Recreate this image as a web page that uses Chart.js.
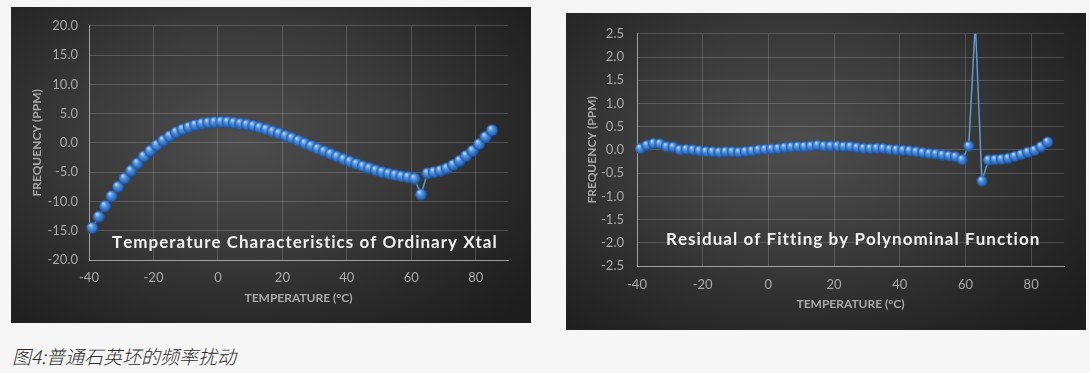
<!DOCTYPE html>
<html>
<head>
<meta charset="utf-8">
<script src="https://cdn.jsdelivr.net/npm/chart.js@4.4.1/dist/chart.umd.min.js"></script>
<style>
    html, body { margin: 0; padding: 0; width: 1090px; height: 373px; overflow: hidden; background: #f6f6f6; }
    .painel {
        position: absolute;
        background: radial-gradient(ellipse 72% 80% at 44% 42%, #4d4d4d 0%, #3c3c3c 40%, #282828 75%, #1d1d1d 100%);
    }
    .painel canvas { display: block; }
    #painelXtal { left: 11px; top: 7px; width: 520px; height: 316px; }
    #painelResiduo { left: 566px; top: 13px; width: 520px; height: 317px; }
    .legenda {
        position: absolute; left: 12px; top: 342px;
        font: italic 300 19px "Noto Sans CJK SC", sans-serif; color: #2a2a2a;
    }
</style>
</head>
<body>
<div class="painel" id="painelXtal"><canvas id="graficoXtal" width="520" height="316"></canvas></div>
<div class="painel" id="painelResiduo"><canvas id="graficoResiduo" width="520" height="317"></canvas></div>
<div class="legenda">图4:普通石英坯的频率扰动</div>
<script>
// Dados
const temperaturas = [-39, -37, -35, -33, -31, -29, -27, -25, -23, -21, -19, -17, -15, -13, -11, -9, -7, -5, -3, -1,
    1, 3, 5, 7, 9, 11, 13, 15, 17, 19, 21, 23, 25, 27, 29, 31, 33, 35, 37, 39,
    41, 43, 45, 47, 49, 51, 53, 55, 57, 59, 61, 63, 65, 67, 69, 71, 73, 75, 77, 79, 81, 83, 85];

const frequencias = [-14.5, -12.6, -10.8, -9.1, -7.5, -6.05, -4.75, -3.5, -2.3, -1.35,
    -0.4, 0.4, 1.15, 1.8, 2.3, 2.7, 3.05, 3.3, 3.45, 3.55,
    3.6, 3.55, 3.45, 3.3, 3.1, 2.9, 2.6, 2.3, 1.95, 1.6,
    1.2, 0.8, 0.35, -0.1, -0.55, -1.0, -1.45, -1.9, -2.35, -2.8,
    -3.2, -3.6, -4.0, -4.35, -4.7, -5.0, -5.25, -5.5, -5.7, -5.85,
    -6.1, -8.8, -5.2, -5.0, -4.75, -4.35, -3.75, -3.05, -2.2, -1.35,
    -0.2, 1.0, 2.15];

const residuos = [0.03, 0.1, 0.14, 0.13, 0.07, 0.06, 0.0, 0.01, 0.0, -0.02,
    -0.035, -0.04, -0.05, -0.04, -0.04, -0.05, -0.035, -0.02, 0.0, 0.01,
    0.02, 0.03, 0.05, 0.06, 0.07, 0.07, 0.08, 0.1, 0.08, 0.08,
    0.08, 0.07, 0.07, 0.05, 0.035, 0.03, 0.035, 0.03, 0.01, 0.0,
    -0.01, -0.02, -0.04, -0.06, -0.08, -0.09, -0.11, -0.13, -0.15, -0.21,
    0.08, 2.75, -0.67, -0.22, -0.21, -0.2, -0.18, -0.14, -0.1, -0.05,
    -0.01, 0.07, 0.17];

const ticksTemperatura = [-40, -20, 0, 20, 40, 60, 80];
const ticksFrequencia = [-20, -15, -10, -5, 0, 5, 10, 15, 20];
const ticksResiduo = [-2.5, -2.0, -1.5, -1.0, -0.5, 0, 0.5, 1.0, 1.5, 2.0, 2.5];

const corTexto = '#a9a9a9';

// Esfera azul usada como marcador
const criarEsfera = (diametro) => {
    const c = document.createElement('canvas');
    c.width = c.height = diametro + 2;
    const g = c.getContext('2d');
    const r = diametro / 2;
    const cx = c.width / 2, cy = c.height / 2;
    const grad = g.createRadialGradient(cx - r * 0.3, cy - r * 0.45, r * 0.1, cx, cy, r);
    grad.addColorStop(0, '#b8d8fa');
    grad.addColorStop(0.3, '#5b9ae0');
    grad.addColorStop(0.75, '#2e6dc2');
    grad.addColorStop(1, '#1d4d93');
    g.fillStyle = grad;
    g.beginPath();
    g.arc(cx, cy, r, 0, Math.PI * 2);
    g.fill();
    return c;
};

// Título dentro da área do gráfico, com letras espaçadas
const tituloInterno = {
    id: 'tituloInterno',
    afterDatasetsDraw(chart, args, opts) {
        const { ctx, chartArea } = chart;
        ctx.save();
        ctx.font = `bold ${opts.size}px Lato`;
        ctx.fillStyle = '#f0f0f0';
        ctx.textBaseline = 'middle';
        const base = ctx.measureText(opts.text).width;
        const espaco = (opts.width - base) / (opts.text.length - 1);
        let x = chartArea.left + (chartArea.width - opts.width) / 2 + opts.dx;
        const y = chartArea.bottom - opts.dy;
        for (const ch of opts.text) {
            ctx.fillText(ch, x, y);
            x += ctx.measureText(ch).width + espaco;
        }
        ctx.restore();
    }
};

const criarGrafico = (id, valores, cfg) => new Chart(document.getElementById(id), {
    type: 'line',
    data: {
        datasets: [{
            data: temperaturas.map((t, i) => ({ x: t, y: valores[i] })),
            borderColor: '#5b9bd5',
            borderWidth: 1.5,
            pointStyle: criarEsfera(cfg.diametro),
            pointRadius: cfg.diametro / 2,
            clip: cfg.clip
        }]
    },
    options: {
        responsive: false,
        animation: false,
        layout: { padding: cfg.padding },
        plugins: { legend: { display: false }, tooltip: { enabled: false }, tituloInterno: cfg.titulo },
        scales: {
            x: {
                type: 'linear', min: -40, max: 90,
                afterBuildTicks: s => { s.ticks = ticksTemperatura.map(v => ({ value: v })); },
                afterFit: s => { s.height = cfg.alturaX; },
                ticks: { color: corTexto, font: { family: 'Lato', size: 13 }, padding: cfg.padTickX },
                grid: { color: 'rgba(255,255,255,0.17)', drawTicks: false },
                border: { color: 'rgba(255,255,255,0.45)' },
                title: { display: true, text: 'TEMPERATURE (°C)', color: corTexto, font: { family: 'Lato', size: 12, weight: 'bold' }, padding: { top: 0, bottom: cfg.padTituloX } }
            },
            y: {
                min: cfg.ticksY[0], max: cfg.ticksY[cfg.ticksY.length - 1],
                afterBuildTicks: s => { s.ticks = cfg.ticksY.map(v => ({ value: v })); },
                afterFit: s => { s.width = cfg.larguraY; },
                ticks: { color: corTexto, font: { family: 'Lato', size: 13 }, padding: cfg.padTickY, callback: v => v.toFixed(1) },
                grid: { color: 'rgba(255,255,255,0.17)', drawTicks: false },
                border: { color: 'rgba(255,255,255,0.45)' },
                title: { display: true, text: 'FREQUENCY (PPM)', color: corTexto, font: { family: 'Lato', size: 12, weight: 'bold' }, padding: { top: cfg.padTituloY, bottom: 0 } }
            }
        }
    },
    plugins: [tituloInterno]
});

criarGrafico('graficoXtal', frequencias, {
    diametro: 12,
    clip: { left: 7, top: 7, right: 7, bottom: 7 },
    padding: { left: 0, top: 16, right: 23, bottom: 0 },
    ticksY: ticksFrequencia,
    larguraY: 78, alturaX: 63,
    padTickX: 10, padTickY: 11,
    padTituloX: 18, padTituloY: 19,
    titulo: { text: 'Temperature Characteristics of Ordinary Xtal', size: 17, width: 381, dx: 4, dy: 17 }
});

criarGrafico('graficoResiduo', residuos, {
    diametro: 11,
    clip: { left: 7, top: 0, right: 7, bottom: 7 },
    padding: { left: 0, top: 15, right: 22, bottom: 0 },
    ticksY: ticksResiduo,
    larguraY: 71, alturaX: 64,
    padTickX: 11, padTickY: 13,
    padTituloX: 19, padTituloY: 19,
    titulo: { text: 'Residual of Fitting by Polynominal Function', size: 17, width: 371, dx: 1, dy: 26 }
});
</script>
</body>
</html>
